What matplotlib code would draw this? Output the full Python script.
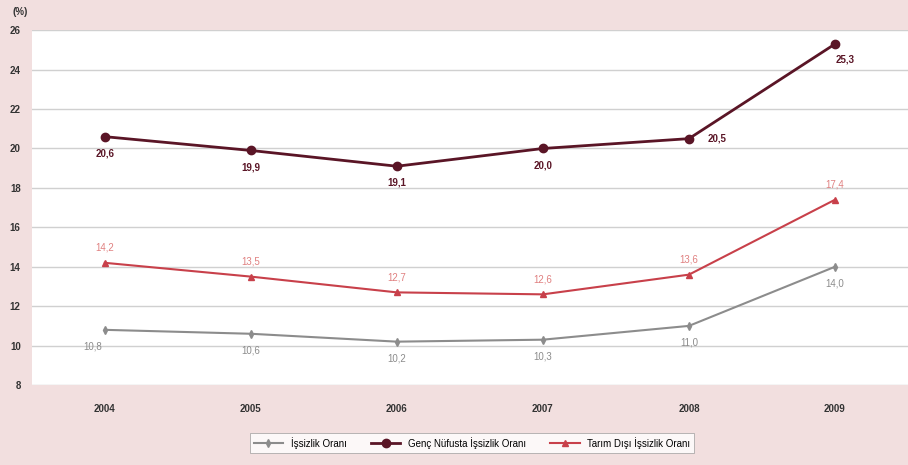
import numpy as np
import matplotlib.pyplot as plt

plt.rcParams['font.family'] = ['Liberation Sans', 'DejaVu Sans']

years = ['2004', '2005', '2006', '2007', '2008', '2009']
issizlik = [10.8, 10.6, 10.2, 10.3, 11.0, 14.0]
genc = [20.6, 19.9, 19.1, 20.0, 20.5, 25.3]
tarim_disi = [14.2, 13.5, 12.7, 12.6, 13.6, 17.4]

bg = '#f2dfdf'
c_iss = '#8c8c8c'
c_genc = '#5a1526'
c_tarim = '#c8404a'
c_tarim_lbl = '#e08080'

fig = plt.figure(figsize=(9.08, 4.65), dpi=100, facecolor=bg)
ax = fig.add_axes([0.035, 0.172, 0.965, 0.763])
ax.set_facecolor('white')
x = np.arange(len(years))

ax.plot(x, issizlik, color=c_iss, lw=1.5, marker='d', ms=4, label='İşsizlik Oranı')
ax.plot(x, genc, color=c_genc, lw=2, marker='o', ms=6, label='Genç Nüfusta İşsizlik Oranı')
ax.plot(x, tarim_disi, color=c_tarim, lw=1.5, marker='^', ms=4, label='Tarım Dışı İşsizlik Oranı')

fmt = lambda v: f'{v:.1f}'.replace('.', ',')

# data labels
for i, v in enumerate(issizlik):
    dx = -0.08 if i == 0 else 0
    ax.annotate(fmt(v), (x[i] + dx, v), xytext=(0, -12), textcoords='offset points',
                ha='center', va='center', fontsize=7, color=c_iss)
for i, v in enumerate(tarim_disi):
    ax.annotate(fmt(v), (x[i], v), xytext=(0, 11), textcoords='offset points',
                ha='center', va='center', fontsize=7, color=c_tarim_lbl)
for i, v in enumerate(genc):
    if i == 4:
        off = (20, 0)
    elif i == 5:
        off = (7, -11)
    else:
        off = (0, -12)
    ax.annotate(fmt(v), (x[i], v), xytext=off, textcoords='offset points',
                ha='center', va='center', fontsize=7, color=c_genc, fontweight='bold')

ax.set_xlim(-0.5, 5.5)
ax.set_ylim(8, 26)
ax.set_yticks(np.arange(8, 27, 2))
ax.set_xticks(x)
ax.set_xticklabels(years)
ax.grid(axis='y', color='#d0d0d0', lw=1)
ax.set_axisbelow(True)
for s in ax.spines.values():
    s.set_visible(False)
ax.tick_params(axis='both', length=0, labelsize=7, labelcolor='#333333')
ax.tick_params(axis='x', pad=14)
ax.tick_params(axis='y', pad=8)
for t in ax.get_xticklabels() + ax.get_yticklabels():
    t.set_fontweight('bold')

fig.text(0.014, 0.975, '(%)', fontsize=7, fontweight='bold', color='#333333', ha='left', va='center')

leg = fig.legend(loc='center', bbox_to_anchor=(0.52, 0.048), ncol=3, fontsize=7,
                 frameon=True, fancybox=False, edgecolor='#999999', handlelength=3,
                 columnspacing=2.5, borderpad=0.4)
leg.get_frame().set_linewidth(0.6)

fig.savefig('out.png', dpi=100, facecolor=bg)
